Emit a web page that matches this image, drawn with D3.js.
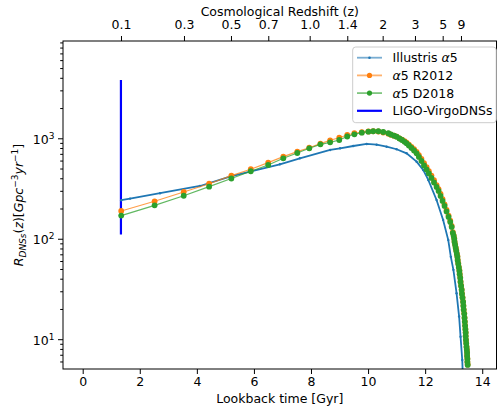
<!DOCTYPE html>
<html>
<head>
<meta charset="utf-8">
<script src="https://cdn.jsdelivr.net/npm/d3@7"></script>
<style>
  body { margin: 0; background: #fff; }
  svg { display: block; font-family: 'DejaVu Sans', sans-serif; }
</style>
</head>
<body>
<div id="svg-container"></div>
<script>
// lookback time [Gyr] and rate for each series
const illustrisLookback = [1.35, 1.66, 2.71, 4.11, 5.16, 5.86, 6.91, 7.61, 8.67, 9.02, 9.48, 9.95, 10.30, 10.65, 11.00, 11.35, 11.70, 11.93, 12.11, 12.40, 12.63, 12.81, 12.90, 12.99, 13.10, 13.19, 13.24, 13.30, 13.32]
const illustrisRate = [242, 251, 284, 335, 415, 465, 551, 632, 765, 795, 838, 878, 863, 825, 778, 709, 585, 484, 385, 243, 154, 97, 66, 49, 28.7, 16.8, 10.6, 6.2, 4.4]

const alphaLookback = [1.35, 2.52, 3.54, 4.43, 5.21, 5.89, 6.50, 7.03, 7.52, 7.94, 8.33, 8.67, 8.99, 9.27, 9.52, 9.78, 10.01, 10.18, 10.36, 10.53,
  10.71, 10.80, 10.91, 11.00, 11.10, 11.19, 11.28, 11.35, 11.43, 11.52, 11.61, 11.70, 11.78, 11.87, 11.96, 12.05, 12.13, 12.22, 12.31, 12.40,
  12.47, 12.54, 12.61, 12.68, 12.75, 12.82, 12.88, 12.93,
  12.97, 13.00, 13.02, 13.03, 13.05, 13.07, 13.09, 13.11, 13.13, 13.14, 13.16, 13.18, 13.20, 13.21, 13.23, 13.24, 13.26, 13.28, 13.29, 13.31,
  13.33, 13.34, 13.35, 13.37, 13.38, 13.39, 13.40, 13.41, 13.42, 13.42, 13.43, 13.44, 13.45, 13.46, 13.47, 13.47, 13.48, 13.48, 13.49]
const rateR2012 = [189, 236, 292, 353, 425, 492, 572, 656, 736, 806, 884, 955, 1012, 1079, 1122, 1148, 1169, 1175, 1169, 1142,
  1112, 1085, 1060, 1040, 1000, 970, 935, 905, 865, 820, 778, 732, 678, 622, 565, 515, 470, 425, 382, 342,
  312, 280, 248, 220, 194, 170, 151, 134,
  116, 108, 101, 94, 88, 82, 77, 71.5, 67, 62, 57, 52.5, 48.5, 44.8, 41.2, 37.6, 34.3, 31.3, 28.5, 26.1,
  23.7, 21.6, 19.8, 18.1, 16.4, 15.0, 13.7, 12.6, 11.7, 10.8, 9.9, 9.15, 8.4, 7.9, 7.35, 6.85, 6.4, 5.95, 5.6]
const rateD2018 = [170, 215, 268, 330, 398, 470, 542, 632, 714, 795, 871, 912, 962, 1042, 1096, 1137, 1164, 1175, 1175, 1155,
  1122, 1091, 1062, 1038, 995, 962, 923, 891, 848, 800, 756, 709, 652, 594, 536, 489, 447, 403, 363, 328,
  299, 267, 238, 212, 187, 165, 147, 131,
  114, 106.7, 99.5, 92.9, 86.7, 81.0, 75.6, 70.6, 65.9, 60.8, 56.1, 51.8, 47.8, 44.2, 40.7, 37.2, 33.9, 30.9, 28.2, 25.8,
  23.5, 21.4, 19.6, 17.9, 16.3, 14.9, 13.6, 12.5, 11.6, 10.7, 9.84, 9.08, 8.38, 7.82, 7.31, 6.82, 6.37, 5.94, 5.55]

const ligoLookback = 1.34
const ligoRange = [110, 3800]

const xTicks = [0, 2, 4, 6, 8, 10, 12, 14]
const yMajorTicks = [10, 100, 1000]
const redshiftLabels = ['0.1', '0.3', '0.5', '0.7', '1.0', '1.4', '2', '3', '5', '9']
const redshiftLookback = [1.342, 3.549, 5.196, 6.503, 7.954, 9.271, 10.511, 11.643, 12.614, 13.255]

const seriesNames = ['Illustris', 'R2012', 'D2018', 'LIGO']
const colors = { Illustris: '#1f77b4', R2012: '#ff7f0e', D2018: '#2ca02c', LIGO: '#0000ff' }

const width = 498
const height = 414
const plotLeft = 63
const plotRight = 496.5
const plotTop = 41
const plotBottom = 369
const fontSize = 12.5

const svg = d3
  .select('#svg-container')
  .append('svg')
  .attr('width', width)
  .attr('height', height)
  .attr('viewBox', `0 0 ${width} ${height}`)

const xScale = d3.scaleLinear().domain([-0.69, 14.5]).range([plotLeft, plotRight])
const yScale = d3.scaleLog().domain([5.05, 9300]).range([plotBottom, plotTop])

svg
  .append('clipPath')
  .attr('id', 'plot-clip')
  .append('rect')
  .attr('x', plotLeft)
  .attr('y', plotTop)
  .attr('width', plotRight - plotLeft)
  .attr('height', plotBottom - plotTop)

const chartCore = svg.append('g').attr('clip-path', 'url(#plot-clip)')

// LIGO-Virgo range
chartCore
  .append('line')
  .attr('x1', xScale(ligoLookback))
  .attr('x2', xScale(ligoLookback))
  .attr('y1', yScale(ligoRange[0]))
  .attr('y2', yScale(ligoRange[1]))
  .attr('stroke', colors.LIGO)
  .attr('stroke-width', 2.2)

const line = d3
  .line()
  .x(d => xScale(d[0]))
  .y(d => yScale(d[1]))

const drawSeries = (lookback, rate, color, r, lineWidth, lineOpacity) => {
  const pts = lookback.map((t, i) => [t, rate[i]])
  chartCore
    .append('path')
    .attr('d', line(pts))
    .attr('fill', 'none')
    .attr('stroke', color)
    .attr('stroke-width', lineWidth)
    .attr('stroke-opacity', lineOpacity)
  chartCore
    .append('g')
    .selectAll('circle')
    .data(pts)
    .join('circle')
    .attr('cx', d => xScale(d[0]))
    .attr('cy', d => yScale(d[1]))
    .attr('r', r)
    .attr('fill', color)
}

drawSeries(illustrisLookback, illustrisRate, colors.Illustris, 1.2, 1.8, 1)
drawSeries(alphaLookback, rateR2012, colors.R2012, 2.9, 1.2, 0.75)
drawSeries(alphaLookback, rateD2018, colors.D2018, 2.9, 1.2, 0.75)

// frame
svg
  .append('rect')
  .attr('x', plotLeft)
  .attr('y', plotTop)
  .attr('width', plotRight - plotLeft)
  .attr('height', plotBottom - plotTop)
  .attr('fill', 'none')
  .attr('stroke', '#000')
  .attr('stroke-width', 1)

const styleAxis = g => {
  g.select('.domain').remove()
  g.selectAll('.tick line').attr('stroke', '#000')
  g.selectAll('.tick text')
    .attr('fill', '#000')
    .style('font-size', `${fontSize}px`)
    .style('font-family', 'DejaVu Sans')
}

// bottom axis
svg
  .append('g')
  .attr('transform', `translate(0, ${plotBottom})`)
  .call(d3.axisBottom(xScale).tickValues(xTicks).tickSize(5).tickPadding(3.5))
  .call(styleAxis)

// top axis (redshift)
svg
  .append('g')
  .attr('transform', `translate(0, ${plotTop})`)
  .call(
    d3
      .axisTop(xScale)
      .tickValues(redshiftLookback)
      .tickFormat((d, i) => redshiftLabels[i])
      .tickSize(5)
      .tickPadding(6.7),
  )
  .call(styleAxis)

// left axis, minor ticks
const yMinorTicks = []
;[1, 10, 100, 1000].forEach(dec => {
  for (let k = 2; k <= 9; k++) {
    const v = dec * k
    if (v >= 5.05 && v <= 9300) yMinorTicks.push(v)
  }
})
svg
  .append('g')
  .attr('transform', `translate(${plotLeft}, 0)`)
  .call(d3.axisLeft(yScale).tickValues(yMinorTicks).tickSize(2.8).tickFormat(''))
  .call(styleAxis)

// left axis, major ticks
svg
  .append('g')
  .attr('transform', `translate(${plotLeft}, 0)`)
  .call(d3.axisLeft(yScale).tickValues(yMajorTicks).tickSize(5).tickPadding(3.5).tickFormat(''))
  .call(styleAxis)
  .call(g => {
    g.selectAll('.tick text').each(function (d) {
      const t = d3.select(this).attr('dx', 0)
      t.append('tspan').text('10')
      t.append('tspan')
        .text(Math.round(Math.log10(d)))
        .style('font-size', '9px')
        .attr('dy', '-0.55em')
    })
    g.selectAll('.tick text').attr('dy', '0.4em')
  })

// axis titles
svg
  .append('text')
  .attr('x', (plotLeft + plotRight) / 2)
  .attr('y', 15.5)
  .attr('text-anchor', 'middle')
  .style('font-size', `${fontSize}px`)
  .text('Cosmological Redshift (z)')

svg
  .append('text')
  .attr('x', (plotLeft + plotRight) / 2)
  .attr('y', 402.5)
  .attr('text-anchor', 'middle')
  .style('font-size', `${fontSize}px`)
  .text('Lookback time [Gyr]')

const yLabel = svg
  .append('text')
  .attr('transform', `translate(23, ${(plotTop + plotBottom) / 2}) rotate(-90)`)
  .attr('text-anchor', 'middle')
  .style('font-size', `${fontSize}px`)

const labelParts = [
  { t: 'R', it: true },
  { t: 'DNSs', it: true, sub: true },
  { t: '(', it: false },
  { t: 'z', it: true },
  { t: ')[', it: false },
  { t: 'Gpc', it: true },
  { t: '−3', it: false, sup: true },
  { t: 'yr', it: true },
  { t: '−1', it: false, sup: true },
  { t: ']', it: false },
]
let shift = 0
labelParts.forEach(p => {
  const target = p.sub ? 3 : p.sup ? -5 : 0
  yLabel
    .append('tspan')
    .text(p.t)
    .style('font-style', p.it ? 'oblique' : 'normal')
    .style('font-size', p.sub || p.sup ? '9px' : `${fontSize}px`)
    .attr('dy', target - shift)
  shift = target
})

// legend
const legend = svg.append('g').attr('transform', 'translate(352.7, 47)')
legend
  .append('rect')
  .attr('width', 143.5)
  .attr('height', 75.7)
  .attr('rx', 3)
  .attr('fill', '#fff')
  .attr('fill-opacity', 0.8)
  .attr('stroke', '#cccccc')
  .attr('stroke-width', 1)

const legendLabels = [
  [{ t: 'Illustris ' }, { t: 'α', it: true }, { t: '5' }],
  [{ t: 'α', it: true }, { t: '5 R2012' }],
  [{ t: 'α', it: true }, { t: '5 D2018' }],
  [{ t: 'LIGO-VirgoDNSs' }],
]
const legendMarkerR = { Illustris: 1.3, R2012: 2.6, D2018: 2.6 }

seriesNames.forEach((name, i) => {
  const gy = 10.7 + i * 17.7
  const row = legend.append('g').attr('transform', `translate(0, ${gy})`)
  row
    .append('line')
    .attr('x1', 4.3)
    .attr('x2', 29.3)
    .attr('stroke', colors[name])
    .attr('stroke-width', name === 'LIGO' ? 2.2 : 1.8)
    .attr('stroke-opacity', name === 'LIGO' ? 1 : 0.6)
  if (legendMarkerR[name]) {
    row
      .append('circle')
      .attr('cx', 16.8)
      .attr('r', legendMarkerR[name])
      .attr('fill', colors[name])
  }
  const txt = row
    .append('text')
    .attr('x', 39.8)
    .attr('dy', '0.36em')
    .style('font-size', `${fontSize}px`)
  legendLabels[i].forEach(p => {
    txt.append('tspan').text(p.t).style('font-style', p.it ? 'oblique' : 'normal')
  })
})
</script>
</body>
</html>
